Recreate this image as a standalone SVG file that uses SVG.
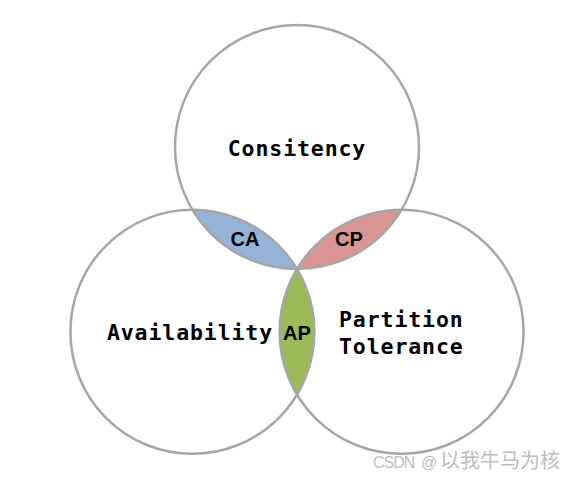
<svg xmlns="http://www.w3.org/2000/svg" width="578" height="483" viewBox="0 0 578 483">
<style>
.circle{fill:none;stroke:#a6a6a6;stroke-width:2.5}
.mono{font-family:"DejaVu Sans Mono","Liberation Mono",monospace;font-weight:bold;font-size:21.5px;letter-spacing:0.9px;fill:#000}
.sans{font-family:"Liberation Sans",Arial,sans-serif;font-weight:bold;font-size:20px;fill:#000;text-anchor:middle}
.wm{font-family:"Liberation Sans","Noto Sans CJK SC",sans-serif;fill:#bdbdbd;font-size:16px}
</style>
<rect width="578" height="483" fill="#fff"/>
<g id="lenses">
<path id="CA-area" d="M192.4 209.8 A122 122 0 0 0 297 269 A122 122 0 0 0 192.4 209.8 Z" fill="#95b3d7"/>
<path id="CP-area" d="M297 269 A122 122 0 0 0 401.6 209.8 A122 122 0 0 0 297 269 Z" fill="#d99694"/>
<path id="AP-area" d="M297 269 A122 122 0 0 1 297 394.6 A122 122 0 0 1 297 269 Z" fill="#9bbb59"/>
</g>
<g id="consistency">
<circle class="circle" cx="297" cy="147" r="122"/>
<text class="mono" x="297" y="156" text-anchor="middle">Consitency</text>
</g>
<g id="availability">
<circle class="circle" cx="192.4" cy="331.8" r="122"/>
<text class="mono" x="190" y="340" text-anchor="middle">Availability</text>
</g>
<g id="partition">
<circle class="circle" cx="401.6" cy="331.8" r="122"/>
<text class="mono" x="339" y="327">Partition</text>
<text class="mono" x="339" y="354">Tolerance</text>
</g>
<g id="labels">
<text class="sans" x="245" y="246">CA</text>
<text class="sans" x="349" y="246">CP</text>
<text class="sans" x="297" y="340">AP</text>
</g>
<text class="wm" y="468"><tspan x="373" font-size="16" letter-spacing="-1">CSDN</tspan><tspan x="421">@</tspan><tspan x="440" font-size="20" font-family="'Noto Sans CJK SC',sans-serif">以我牛马为核</tspan></text>
</svg>
